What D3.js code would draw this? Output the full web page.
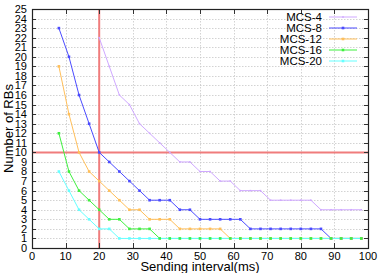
<!DOCTYPE html>
<html>
<head>
<meta charset="utf-8">
<script src="https://cdn.jsdelivr.net/npm/d3@7"></script>
<style>
body { margin:0; background:#fff; }
text { font-family: "Liberation Sans", Arial, sans-serif; fill:#000; }
</style>
</head>
<body>
<svg id="chart" width="382" height="273"></svg>
<script>

var intervals = [8,11,14,17,20,23,26,29,32,35,38,41,44,47,50,53,56,59,62,65,68,71,74,77,80,83,86,89,92,95,98];

var mcs4  = [null,null,null,null,22,19,16,15,13,12,11,10,9,9,8,8,7,7,6,6,6,5,5,5,5,5,4,4,4,4,4];
var mcs8  = [23,20,16,13,10,9,8,7,6,5,5,5,4,4,3,3,3,3,3,2,2,2,2,2,2,2,2,1,1,1,1];
var mcs12 = [19,14,10,8,7,6,5,4,4,3,3,3,2,2,2,2,2,1,1,1,1,1,1,1,1,1,1,1,1,1,1];
var mcs16 = [12,8,6,5,4,3,3,2,2,2,1,1,1,1,1,1,1,1,1,1,1,1,1,1,1,1,1,1,1,1,1];
var mcs20 = [8,6,4,3,2,2,1,1,1,1,1,1,1,1,1,1,1,1,1,1,1,1,1,1,1,1,1,1,1,1,1];

var seriesNames = ["MCS-4","MCS-8","MCS-12","MCS-16","MCS-20"];
var seriesValues = [mcs4, mcs8, mcs12, mcs16, mcs20];
var seriesColors = ["#cfa8ff","#4b4bff","#ffbf5a","#3ff03f","#66ffff"];

var xTicks = [0,10,20,30,40,50,60,70,80,90,100];
var yTicks = d3.range(0, 26);
var limitX = 20, limitY = 10;

var pLeft = 32, pRight = 368, pTop = 9, pBottom = 248;

var svg = d3.select("#chart");

var x = d3.scaleLinear().domain([0,100]).range([pLeft,pRight]);
var y = d3.scaleLinear().domain([0,25]).range([pBottom,pTop]);

// grid
svg.append("g").selectAll("line").data(yTicks.slice(1,25)).enter().append("line")
  .attr("x1",pLeft).attr("x2",pRight)
  .attr("y1",function(d){return Math.round(y(d))+0.5}).attr("y2",function(d){return Math.round(y(d))+0.5})
  .attr("stroke","#c8c8c8").attr("stroke-width",0.8).attr("stroke-dasharray","1.5,1.5");
svg.append("g").selectAll("line").data(xTicks.slice(1,10)).enter().append("line")
  .attr("y1",pTop).attr("y2",pBottom)
  .attr("x1",function(d){return Math.round(x(d))+0.5}).attr("x2",function(d){return Math.round(x(d))+0.5})
  .attr("stroke","#c8c8c8").attr("stroke-width",0.8).attr("stroke-dasharray","1.5,1.5");

// threshold lines
svg.append("line").attr("x1",pLeft).attr("x2",pRight)
  .attr("y1",y(limitY)).attr("y2",y(limitY))
  .attr("stroke","#f07c7c").attr("stroke-width",2);
svg.append("line").attr("x1",x(limitX)).attr("x2",x(limitX))
  .attr("y1",pTop).attr("y2",pBottom)
  .attr("stroke","#f07c7c").attr("stroke-width",2);

// ticks, inward and mirrored
var tk = svg.append("g").attr("stroke","#333").attr("stroke-width",1);
yTicks.forEach(function(d){
  var yy = Math.round(y(d))+0.5;
  tk.append("line").attr("x1",pLeft).attr("x2",pLeft+4).attr("y1",yy).attr("y2",yy);
  tk.append("line").attr("x1",pRight-4).attr("x2",pRight).attr("y1",yy).attr("y2",yy);
});
xTicks.forEach(function(d){
  var xx = Math.round(x(d))+0.5;
  tk.append("line").attr("x1",xx).attr("x2",xx).attr("y1",pBottom).attr("y2",pBottom-5);
  tk.append("line").attr("x1",xx).attr("x2",xx).attr("y1",pTop).attr("y2",pTop+5);
});

// border
svg.append("rect").attr("x",pLeft+0.5).attr("y",pTop+0.5)
  .attr("width",pRight-pLeft).attr("height",pBottom-pTop)
  .attr("fill","none").attr("stroke","#222").attr("stroke-width",1.2);

// tick labels
svg.append("g").selectAll("text").data(yTicks).enter().append("text")
  .attr("x",27).attr("y",function(d){return y(d)})
  .attr("dy","0.36em").attr("text-anchor","end").attr("font-size",11)
  .text(function(d){return d});
svg.append("g").selectAll("text").data(xTicks).enter().append("text")
  .attr("x",function(d){return x(d)}).attr("y",260)
  .attr("text-anchor","middle").attr("font-size",11)
  .text(function(d){return d});

// axis titles
svg.append("text").attr("x",x(50)).attr("y",271)
  .attr("text-anchor","middle").attr("font-size",13)
  .text("Sending interval(ms)");
svg.append("text").attr("transform","translate(13,"+(pTop+pBottom)/2+") rotate(-90)")
  .attr("text-anchor","middle").attr("font-size",13)
  .text("Number of RBs");

// series lines
var line = d3.line()
  .defined(function(d){return d[1] !== null})
  .x(function(d){return x(d[0])})
  .y(function(d){return y(d[1])});

seriesValues.forEach(function(vals,i){
  var pts = intervals.map(function(d,j){return [d, vals[j]]});
  svg.append("path").datum(pts)
    .attr("d",line).attr("fill","none")
    .attr("stroke",seriesColors[i]).attr("stroke-width",1);
});

// series points (cyan first so the others sit on top)
[4,0,1,2,3].forEach(function(i){
  var vals = seriesValues[i];
  var pts = intervals.map(function(d,j){return [d, vals[j]]}).filter(function(d){return d[1] !== null});
  var s = i === 0 ? 1.6 : 2.6;
  svg.append("g").selectAll("rect").data(pts).enter().append("rect")
    .attr("x",function(d){return x(d[0])-s/2}).attr("y",function(d){return y(d[1])-s/2})
    .attr("width",s).attr("height",s).attr("fill",seriesColors[i]);
});

// legend
var lg = svg.append("g");
seriesNames.forEach(function(n,i){
  var ly = 17 + i*11;
  lg.append("text").attr("x",322).attr("y",ly).attr("dy","0.36em")
    .attr("text-anchor","end").attr("font-size",11.5).text(n);
  lg.append("line").attr("x1",329).attr("x2",357).attr("y1",ly).attr("y2",ly)
    .attr("stroke",seriesColors[i]).attr("stroke-width",1);
  var s = i === 0 ? 1.6 : 2.6;
  lg.append("rect").attr("x",343-s/2).attr("y",ly-s/2).attr("width",s).attr("height",s)
    .attr("fill",seriesColors[i]);
});

</script>
</body>
</html>
